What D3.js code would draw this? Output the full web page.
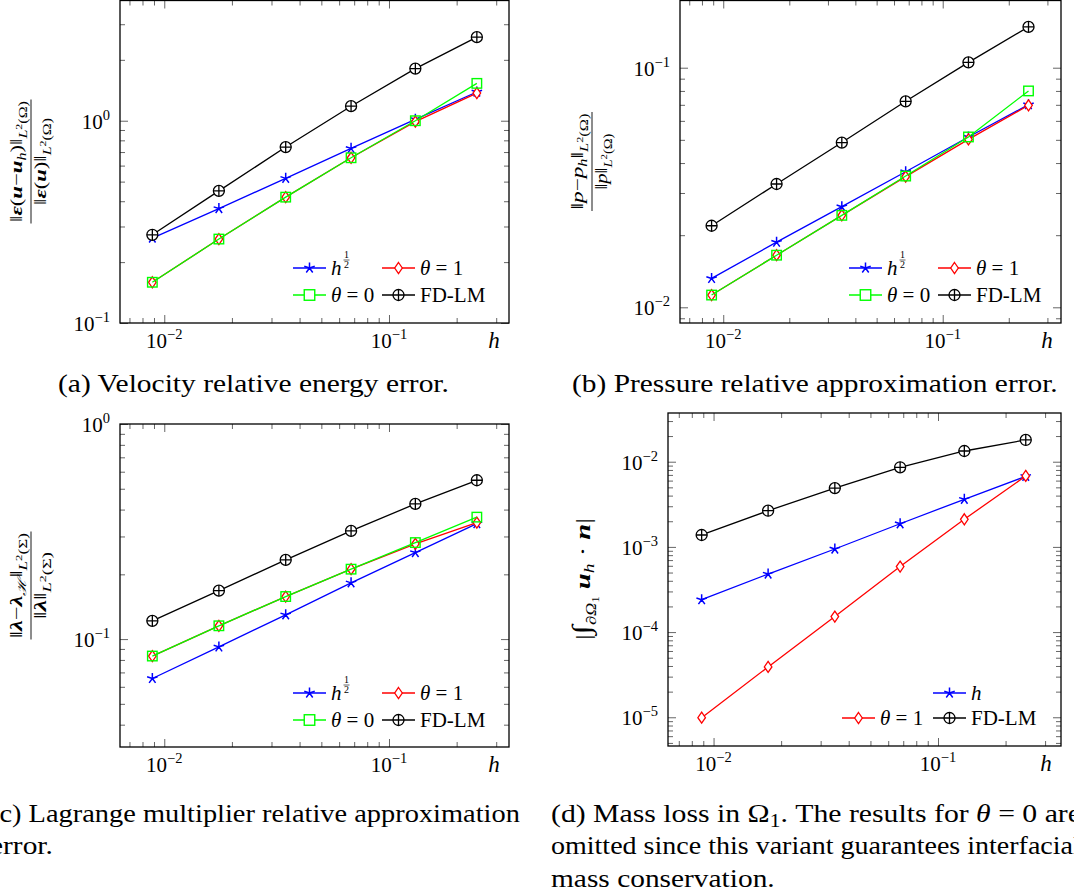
<!DOCTYPE html>
<html><head><meta charset="utf-8">
<script src="https://cdn.jsdelivr.net/npm/d3@7"></script>
<style>
body{margin:0;background:#fff}
svg{display:block}
</style>
</head><body>
<svg id="chart" width="1074" height="894" font-family="Liberation Serif, serif"></svg>
<script>
// ---------------- data ----------------
const hValues    = [0.00885, 0.0175, 0.0347, 0.0678, 0.131, 0.246];
const velHalf    = [0.263, 0.368, 0.519, 0.730, 1.016, 1.387];
const velTheta1  = [0.159, 0.260, 0.419, 0.656, 0.989, 1.37];
const velTheta0  = [0.159, 0.260, 0.419, 0.656, 1.00, 1.53];
const velFDLM    = [0.273, 0.450, 0.741, 1.18, 1.81, 2.59];
const presHalf   = [0.0132, 0.0187, 0.0263, 0.0368, 0.0514, 0.0701];
const presTheta1 = [0.01125, 0.0165, 0.0242, 0.0351, 0.0502, 0.0697];
const presTheta0 = [0.01125, 0.0165, 0.0242, 0.0353, 0.0514, 0.080];
const presFDLM   = [0.0219, 0.0327, 0.0487, 0.0724, 0.1053, 0.148];
const lagHalf    = [0.0656, 0.092, 0.1297, 0.1826, 0.2525, 0.344];
const lagTheta1  = [0.0834, 0.1153, 0.1577, 0.2114, 0.2772, 0.348];
const lagTheta0  = [0.0834, 0.1153, 0.1577, 0.2114, 0.281, 0.369];
const lagFDLM    = [0.1216, 0.168, 0.2335, 0.3185, 0.425, 0.5475];
const massH      = [2.4e-4, 4.8e-4, 9.45e-4, 1.87e-3, 3.62e-3, 6.73e-3];
const massTheta1 = [9.9e-6, 3.9e-5, 1.52e-4, 5.87e-4, 2.11e-3, 6.8e-3];
const massFDLM   = [1.38e-3, 2.66e-3, 4.9e-3, 8.6e-3, 0.01336, 0.018];

const captionA = "(a) Velocity relative energy error.";
const captionB = "(b) Pressure relative approximation error.";
const captionC = ["(c) Lagrange multiplier relative approximation", "error."];
const captionD2 = "omitted since this variant guarantees interfacial";
const captionD3 = "mass conservation.";

// ---------------- helpers ----------------
const FONT = "'Liberation Serif', serif";
const svg = d3.select('#chart');
const COL = {blue:'#0000ff', red:'#ff0000', green:'#00ff00', black:'#000000'};

function rich(parent, segs, base) {
  const t = parent.append('text').style('font-family', FONT)
    .style('font-size', base + 'px').attr('fill', '#000');
  let prev = 0;
  segs.forEach(s => {
    if (typeof s === 'string') s = {t: s};
    const ts = t.append('tspan').text(s.t);
    const sh = s.y || 0;
    if (sh !== prev) ts.attr('dy', sh - prev);
    prev = sh;
    ts.style('font-size', (s.s || base) + 'px');
    if (s.i) ts.style('font-style', 'italic');
    if (s.b) ts.style('font-weight', 'bold');
  });
  return t;
}

function drawMarker(g, type, cx, cy, color, legend) {
  const m = g.append('g').attr('transform', `translate(${cx},${cy})`);
  if (type === 'star') {
    const r = 5.5;
    let p = '';
    for (let i = 0; i < 5; i++) {
      const a = -Math.PI / 2 + i * 2 * Math.PI / 5;
      p += `M0,0L${(r * Math.cos(a)).toFixed(2)},${(r * Math.sin(a)).toFixed(2)}`;
    }
    m.append('path').attr('d', p).attr('stroke', color).attr('stroke-width', 1.5).attr('fill', 'none');
  } else if (type === 'diamond') {
    m.append('path').attr('d', 'M0,-5.5L3.8,0L0,5.5L-3.8,0Z')
      .attr('fill', '#fff').attr('stroke', color).attr('stroke-width', 1.3);
  } else if (type === 'square') {
    const s = legend ? 10.5 : 9.5;
    m.append('rect').attr('x', -s / 2).attr('y', -s / 2).attr('width', s).attr('height', s)
      .attr('fill', legend ? '#fff' : 'none').attr('stroke', color).attr('stroke-width', 1.4);
  } else if (type === 'oplus') {
    const r = 5.5;
    m.append('circle').attr('r', r).attr('fill', '#fff').attr('stroke', color).attr('stroke-width', 1.3);
    m.append('path').attr('d', `M${-r},0H${r}M0,${-r}V${r}`).attr('stroke', color).attr('stroke-width', 1.3);
  }
}

function fitWidth(t, target) {
  const w = t.node().getBBox().width;
  const k = target / w;
  const cur = t.attr('transform') || '';
  t.attr('transform', cur + ` scale(${k},1)`);
  return k;
}

function panel(cfg) {
  const g = svg.append('g');
  const x = d3.scaleLog().domain(cfg.xd).range([cfg.left, cfg.right]);
  const y = d3.scaleLog().domain(cfg.yd).range([cfg.bottom, cfg.top]);

  function logTicks(d) {
    const maj = [], min = [];
    const e0 = Math.floor(Math.log10(d[0])), e1 = Math.ceil(Math.log10(d[1]));
    for (let e = e0; e <= e1; e++) {
      for (let k = 1; k <= 9; k++) {
        const v = k * Math.pow(10, e);
        if (v >= d[0] * 0.9999 && v <= d[1] * 1.0001) (k === 1 ? maj : min).push(v);
      }
    }
    return {maj, min};
  }
  const xt = logTicks(cfg.xd), yt = logTicks(cfg.yd);
  const tickCol = '#666';
  function ax(axisFn, scale, vals, size, tr) {
    const a = g.append('g').attr('transform', tr)
      .call(axisFn(scale).tickValues(vals).tickSizeInner(-size).tickSizeOuter(0).tickFormat(''));
    a.select('.domain').remove();
    a.selectAll('line').attr('stroke', tickCol).attr('stroke-width', 1);
  }
  [[xt.maj, 8], [xt.min, 5]].forEach(([v, s]) => {
    ax(d3.axisBottom, x, v, s, `translate(0,${cfg.bottom})`);
    ax(d3.axisTop, x, v, s, `translate(0,${cfg.top})`);
  });
  [[yt.maj, 8], [yt.min, 5]].forEach(([v, s]) => {
    ax(d3.axisLeft, y, v, s, `translate(${cfg.left},0)`);
    ax(d3.axisRight, y, v, s, `translate(${cfg.right},0)`);
  });
  g.append('rect').attr('x', cfg.left).attr('y', cfg.top)
    .attr('width', cfg.right - cfg.left).attr('height', cfg.bottom - cfg.top)
    .attr('fill', 'none').attr('stroke', '#000').attr('stroke-width', 1.3);

  // tick labels
  xt.maj.forEach(v => {
    const e = Math.round(Math.log10(v));
    rich(g, ['10', {t: (e < 0 ? '\u2212' : '') + Math.abs(e), s: 14.5, y: -9}], 21)
      .attr('x', x(v)).attr('y', cfg.bottom + 25).attr('text-anchor', 'middle');
  });
  yt.maj.forEach(v => {
    const e = Math.round(Math.log10(v));
    rich(g, ['10', {t: (e < 0 ? '\u2212' : '') + Math.abs(e), s: 14.5, y: -9}], 21)
      .attr('x', cfg.left - 10).attr('y', y(v) + 8).attr('text-anchor', 'end');
  });
  rich(g, [{t: 'h', i: 1}], 23).attr('x', cfg.hx).attr('y', cfg.bottom + 25).attr('text-anchor', 'middle');

  // series
  const line = d3.line().x(d => x(d[0])).y(d => y(d[1]));
  cfg.series.forEach(s => {
    const pts = hValues.map((h, i) => [h, s.values[i]]);
    g.append('path').attr('d', line(pts)).attr('fill', 'none')
      .attr('stroke', s.color).attr('stroke-width', 1.3);
    pts.forEach(p => drawMarker(g, s.marker, x(p[0]), y(p[1]), s.color, false));
  });

  // legend
  cfg.legend.forEach(L => {
    const s = cfg.series[L.idx];
    g.append('line').attr('x1', L.x).attr('x2', L.x + 33).attr('y1', L.y).attr('y2', L.y)
      .attr('stroke', s.color).attr('stroke-width', 1.3);
    drawMarker(g, s.marker, L.x + 16.5, L.y, s.color, true);
    const t = rich(g, L.label, 21).attr('x', L.x + 38).attr('y', L.y + 7);
    if (L.frac) {
      const w = t.node().getComputedTextLength();
      const fx = L.x + 38 + w + 5;
      rich(g, ['1'], 10).attr('x', fx).attr('y', L.y - 10).attr('text-anchor', 'middle');
      g.append('line').attr('x1', fx - 3).attr('x2', fx + 3).attr('y1', L.y - 8).attr('y2', L.y - 8)
        .attr('stroke', '#000').attr('stroke-width', 0.6);
      rich(g, ['2'], 10).attr('x', fx).attr('y', L.y - 0.5).attr('text-anchor', 'middle');
    }
  });

  // y label
  const grp = g.append('g').attr('transform', `translate(${cfg.ylab.cx},${cfg.ylab.cy}) rotate(-90)`);
  if (cfg.ylab.frac) {
    const n = rich(grp, cfg.ylab.num, 17).attr('text-anchor', 'middle').attr('y', -9);
    const d = rich(grp, cfg.ylab.den, 17).attr('text-anchor', 'middle').attr('y', 15);
    fitWidth(n, cfg.ylab.wn);
    fitWidth(d, cfg.ylab.wd);
    const w = Math.max(cfg.ylab.wn, cfg.ylab.wd) + 3;
    grp.append('line').attr('x1', -w / 2).attr('x2', w / 2).attr('y1', 0).attr('y2', 0)
      .attr('stroke', '#000').attr('stroke-width', 0.9);
  } else {
    const t = rich(grp, cfg.ylab.segs, 22).attr('text-anchor', 'middle').attr('y', 0);
    fitWidth(t, cfg.ylab.w);
  }
}

const BI = (t, extra) => Object.assign({t, i: 1, b: 1}, extra || {});
const IT = (t, extra) => Object.assign({t, i: 1}, extra || {});
const normL2 = (sym) => [IT('L', {s: 12, y: 5}), {t: '2', s: 9, y: 0}, {t: '(' + sym + ')', s: 12, y: 5}];
const legHalf = {label: [IT('h')], frac: true};
const legT1 = {label: [IT('\u03b8'), ' = 1']};
const legT0 = {label: [IT('\u03b8'), ' = 0']};
const legFD = {label: ['FD-LM']};

function std(vH, v1, v0, vF) {
  return [
    {values: vH, color: COL.blue, marker: 'star'},
    {values: v1, color: COL.red, marker: 'diamond'},
    {values: v0, color: COL.green, marker: 'square'},
    {values: vF, color: COL.black, marker: 'oplus'}
  ];
}
function stdLegend(x1, x2, y1, y2) {
  return [
    Object.assign({idx: 0, x: x1, y: y1}, legHalf),
    Object.assign({idx: 1, x: x2, y: y1}, legT1),
    Object.assign({idx: 2, x: x1, y: y2}, legT0),
    Object.assign({idx: 3, x: x2, y: y2}, legFD)
  ];
}

// (a)
panel({
  left: 120, right: 509, top: 0.5, bottom: 323,
  xd: [Math.pow(10, -2.197), Math.pow(10, -0.466)], yd: [0.1, 3.93], hx: 494,
  series: std(velHalf, velTheta1, velTheta0, velFDLM),
  legend: stdLegend(293, 382, 268, 295),
  ylab: {frac: true, cx: 31, cy: 161.5, wn: 121, wd: 87,
    num: ['\u2016', BI('\u03b5'), '(', BI('u'), '\u2212', BI('u'), IT('h', {s: 12, y: 4}), {t: ')', y: 0}, '\u2016', ...normL2('\u03a9')],
    den: ['\u2016', BI('\u03b5'), '(', BI('u'), ')', '\u2016', ...normL2('\u03a9')]}
});
// (b)
panel({
  left: 680, right: 1061, top: 0.5, bottom: 323,
  xd: [Math.pow(10, -2.197), Math.pow(10, -0.461)], yd: [Math.pow(10, -2.0655), Math.pow(10, -0.7195)], hx: 1047,
  series: std(presHalf, presTheta1, presTheta0, presFDLM),
  legend: stdLegend(849, 938, 268, 295),
  ylab: {frac: true, cx: 592, cy: 161.5, wn: 96, wd: 56,
    num: ['\u2016', IT('p'), '\u2212', IT('p'), IT('h', {s: 12, y: 4}), {t: '\u2016', y: 0}, ...normL2('\u03a9')],
    den: ['\u2016', IT('p'), '\u2016', ...normL2('\u03a9')]}
});
// (c)
panel({
  left: 120, right: 509, top: 424, bottom: 747,
  xd: [Math.pow(10, -2.197), Math.pow(10, -0.466)], yd: [0.0315, 1], hx: 494,
  series: std(lagHalf, lagTheta1, lagTheta0, lagFDLM),
  legend: stdLegend(293, 382, 693, 720),
  ylab: {frac: true, cx: 31, cy: 585.5, wn: 105, wd: 67,
    num: ['\u2016', BI('\u03bb'), '\u2212', BI('\u03bb'), IT('\u210b', {s: 12, y: 4}), {t: '\u2016', y: 0}, ...normL2('\u03a3')],
    den: ['\u2016', BI('\u03bb'), '\u2016', ...normL2('\u03a3')]}
});
// (d)
panel({
  left: 668, right: 1061, top: 413, bottom: 746,
  xd: [Math.pow(10, -2.203), Math.pow(10, -0.452)], yd: [4.6e-6, 0.0373], hx: 1046,
  series: [
    {values: massH, color: COL.blue, marker: 'star'},
    {values: massTheta1, color: COL.red, marker: 'diamond'},
    {values: massFDLM, color: COL.black, marker: 'oplus'}
  ],
  legend: [
    Object.assign({idx: 0, x: 933, y: 693}, {label: [IT('h')]}),
    Object.assign({idx: 1, x: 842, y: 718}, legT1),
    Object.assign({idx: 2, x: 933, y: 718}, legFD)
  ],
  ylab: {frac: false, cx: 590, cy: 579, w: 122,
    segs: ['|', {t: '\u222b', s: 26}, {t: '\u2202\u03a9', s: 14, y: 6, i: 1}, {t: '1', s: 10, y: 9}, {t: ' ', y: 0}, BI('u'), IT('h', {s: 15, y: 4}), {t: ' \u00b7 ', y: 0}, BI('n'), '|']}
});

// ---------------- captions ----------------
const capFont = 25;
// place a caption line; if width is given, stretch it horizontally to that width
function capLine(segs, x, yb, anchor, sx, width) {
  const grp = svg.append('g').attr('transform', `translate(${x},${yb})`);
  const t = rich(grp, segs, capFont).attr('x', 0).attr('y', 0).attr('text-anchor', anchor || 'start');
  const w = t.node().getComputedTextLength();
  const k = width ? width / w : sx;
  t.attr('transform', `scale(${k},1)`);
  return t;
}
const probe = rich(svg, [captionB], capFont);
const sx = 486 / probe.node().getComputedTextLength();
probe.remove();

const colW = 530;
capLine([captionA], 58, 392, 'start', sx, 391);
capLine([captionB], 572, 392, 'start', sx, 486);
capLine([captionC[0]], -10, 822, 'start', sx, colW);
capLine([captionC[1]], -10, 854, 'start', sx);
capLine(['(d) Mass loss in \u03a9', {t: '1', s: 18, y: 5}, {t: '. The results for ', y: 0}, IT('\u03b8'), ' = 0 are'], 551, 822, 'start', sx, colW);
capLine([captionD2], 551, 854, 'start', sx, colW);
capLine([captionD3], 551, 887, 'start', sx);
</script>
</body></html>
